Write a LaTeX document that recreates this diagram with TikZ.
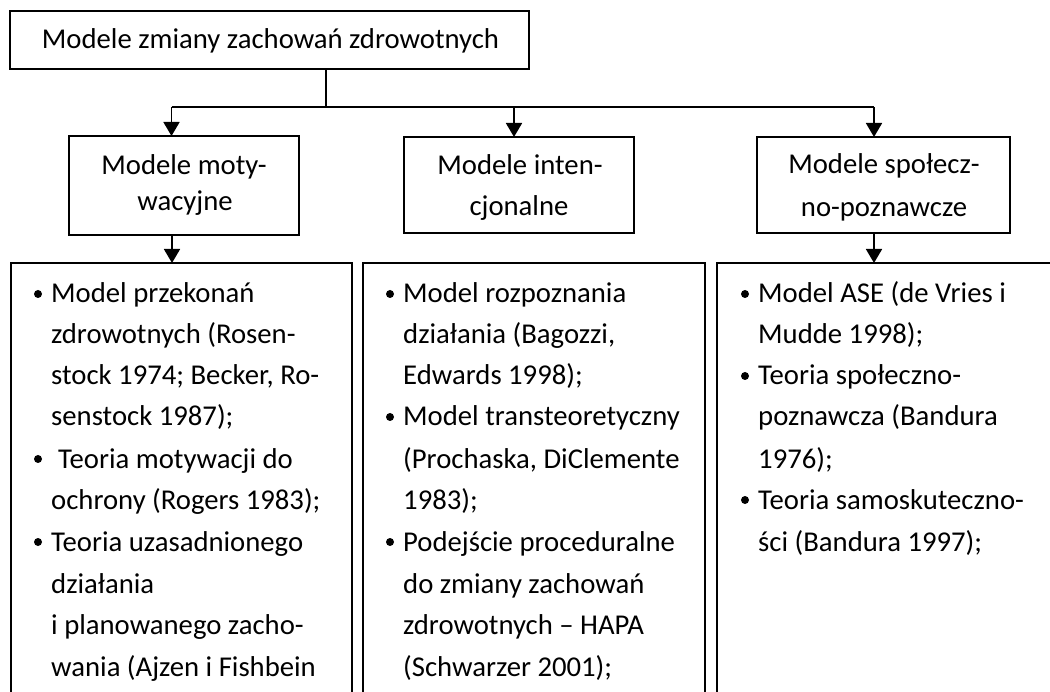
\documentclass[tikz,border=0pt]{standalone}
\usepackage{fontspec}
\setmainfont{Carlito}
\usetikzlibrary{arrows.meta}
\begin{document}
\begin{tikzpicture}[x=1pt,y=-1pt,
  box/.style={draw,line width=1.8pt,inner sep=0pt,outer sep=0pt},
  lbl/.style={font=\fontsize{28.7}{34}\selectfont,anchor=base,inner sep=0pt},
  txt/.style={font=\fontsize{28.7}{34}\selectfont,anchor=base west,inner sep=0pt},
  ln/.style={line width=1.8pt},
  arr/.style={line width=1.8pt,-{Triangle[width=16pt,length=14pt]}},
  dot/.style={circle,fill,inner sep=0pt,minimum size=8pt}]
\clip (0,0) rectangle (1050,692);
% top box
\node[box,minimum width=519pt,minimum height=58pt] (title) at (269.5,40) {};
\node[lbl] (titletxt) at (270.5,49) {Modele zmiany zachowań zdrowotnych};
% middle boxes
\node[box,minimum width=230pt,minimum height=99pt] (m1) at (184,185.5) {};
\node[lbl] (m1a) at (184,175) {Modele moty-};
\node[lbl] (m1b) at (185,211) {wacyjne};
\node[box,minimum width=230pt,minimum height=96pt] (m2) at (519,185) {};
\node[lbl] (m2a) at (520,175) {Modele inten-};
\node[lbl] (m2b) at (519,216) {cjonalne};
\node[box,minimum width=253pt,minimum height=96pt] (m3) at (883.5,185) {};
\node[lbl] (m3a) at (884,174) {Modele społecz-};
\node[lbl] (m3b) at (884,217) {no-poznawcze};
% bottom boxes (run past the lower edge)
\node[box,minimum width=341pt,minimum height=537pt] (b1) at (181.5,531.5) {};
\node[box,minimum width=342pt,minimum height=537pt] (b2) at (534,531.5) {};
\node[box,minimum width=353pt,minimum height=537pt] (b3) at (893.5,531.5) {};
% connectors
\coordinate (j) at (326,107);
\coordinate (c1) at (171.5,107);
\coordinate (c2) at (514,107);
\coordinate (c3) at (874,107);
\coordinate (d1) at (172,0);
\draw[ln] (title.south -| j) -- (j);
\draw[ln] (c1) -- (c3);
\draw[arr] (c1) -- (c1 |- m1.north);
\draw[arr] (c2) -- (c2 |- m2.north);
\draw[arr] (c3) -- (c3 |- m3.north);
\draw[arr] (d1 |- m1.south) -- (d1 |- b1.north);
\draw[arr] (c3 |- m3.south) -- (c3 |- b3.north);
% list A
\node[dot] (dA1) at (38,294) {};
\node[txt] (a1) at (51,303) {Model przekonań};
\node[txt] (a2) at (51,344) {zdrowotnych (Rosen-};
\node[txt] (a3) at (51,385) {stock 1974; Becker, Ro-};
\node[txt] (a4) at (51,426) {senstock 1987);};
\node[dot] (dA2) at (38,459) {};
\node[txt] (a5) at (58,468) {Teoria motywacji do};
\node[txt] (a6) at (51,509) {ochrony (Rogers 1983);};
\node[dot] (dA3) at (38,542) {};
\node[txt] (a7) at (51,551) {Teoria uzasadnionego};
\node[txt] (a8) at (51,593) {działania};
\node[txt] (a9) at (51,634) {i planowanego zacho-};
\node[txt] (a10) at (51,676) {wania (Ajzen i Fishbein};
% list B
\node[dot] (dB1) at (390,294) {};
\node[txt] (bb1) at (403,303) {Model rozpoznania};
\node[txt] (bb2) at (403,344) {działania (Bagozzi,};
\node[txt] (bb3) at (403,385) {Edwards 1998);};
\node[dot] (dB2) at (390,417) {};
\node[txt] (bb4) at (403,426) {Model transteoretyczny};
\node[txt] (bb5) at (403,468) {(Prochaska, DiClemente};
\node[txt] (bb6) at (403,509) {1983);};
\node[dot] (dB3) at (390,542) {};
\node[txt] (bb7) at (403,551) {Podejście proceduralne};
\node[txt] (bb8) at (403,593) {do zmiany zachowań};
\node[txt] (bb9) at (403,634) {zdrowotnych – HAPA};
\node[txt] (bb10) at (403,676) {(Schwarzer 2001);};
% list C
\node[dot] (dC1) at (745,294) {};
\node[txt] (cc1) at (758,303) {Model ASE (de Vries i};
\node[txt] (cc2) at (758,344) {Mudde 1998);};
\node[dot] (dC2) at (745,376) {};
\node[txt] (cc3) at (758,385) {Teoria społeczno-};
\node[txt] (cc4) at (758,426) {poznawcza (Bandura};
\node[txt] (cc5) at (758,468) {1976);};
\node[dot] (dC3) at (745,500) {};
\node[txt] (cc6) at (758,509) {Teoria samoskuteczno-};
\node[txt] (cc7) at (758,551) {ści (Bandura 1997);};
\end{tikzpicture}
\end{document}
